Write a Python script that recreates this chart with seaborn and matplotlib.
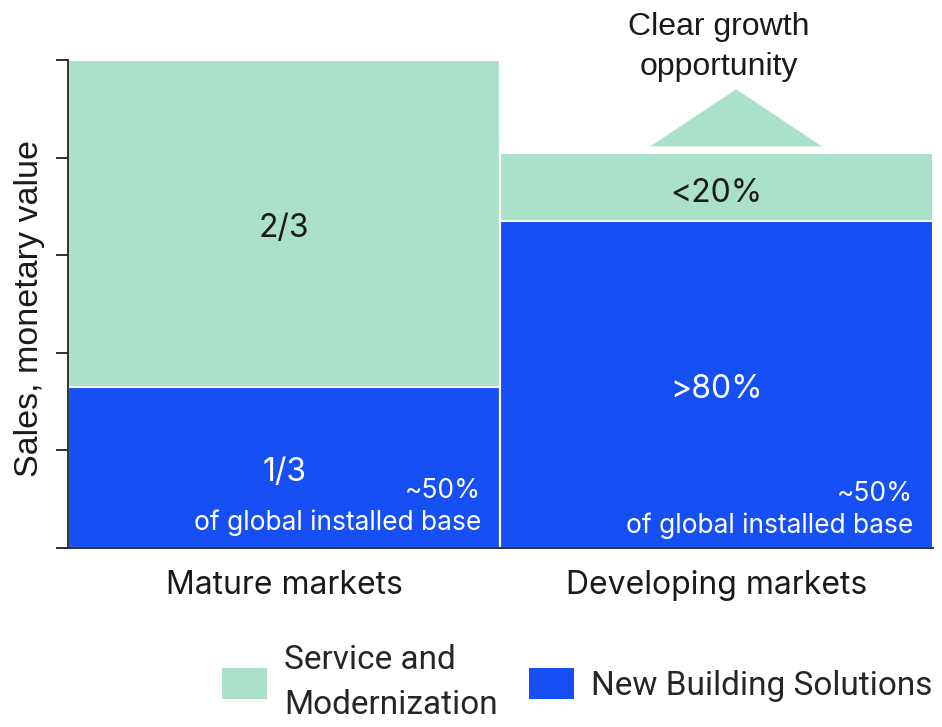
import matplotlib
matplotlib.use("Agg")
import matplotlib.pyplot as plt
import seaborn as sns
import pandas as pd
from matplotlib.patches import Patch

markets = ["Mature markets", "Developing markets"]
new_building = [33, 67]
service_mod = [67, 14]
top_labels = ["2/3", "<20%"]
bottom_labels = ["1/3", ">80%"]
note_share = ["~50%", "~50%"]
note_text = ["of global installed base", "of global installed base"]
series_names = ["Service and\nModernization", "New Building Solutions"]

GREEN = "#ABE1CA"
BLUE = "#1650F5"

sns.set_style("white")
plt.rcParams["font.family"] = ["Inter", "DejaVu Sans"]

totals = [a + b for a, b in zip(new_building, service_mod)]
df = pd.DataFrame({"market": markets, "total": totals, "new": new_building})

fig = plt.figure(figsize=(9.42, 7.27), dpi=100)
ax = fig.add_axes([0.0722, 0.2462, 0.9182, 0.6713])

sns.barplot(data=df, x="market", y="total", color=GREEN, width=1.0,
            edgecolor="white", linewidth=1.5, saturation=1, ax=ax)
sns.barplot(data=df, x="market", y="new", color=BLUE, width=1.0,
            edgecolor="white", linewidth=1.5, saturation=1, ax=ax)

ax.set_xlim(-0.5, 1.5)
ax.set_ylim(0, 100)
ax.set_yticks([0, 20, 40, 60, 80, 100])
ax.set_yticklabels([])
ax.tick_params(axis="y", which="major", length=9, width=1.3, color="#222222", left=True, direction="out")
ax.tick_params(axis="x", length=0, labelsize=23, pad=16, labelcolor="#1a1a1a")
for s in ["top", "right"]:
    ax.spines[s].set_visible(False)
for s in ["left", "bottom"]:
    ax.spines[s].set_color("#222222")
    ax.spines[s].set_linewidth(1.3)
ax.set_xlabel("")
ax.set_ylabel("Sales, monetary value", fontsize=24.5, family=["Liberation Sans"], color="#1a1a1a")
ax.yaxis.set_label_coords(-0.027, 0.49)

for i in range(len(markets)):
    nb = new_building[i]
    tot = totals[i]
    ax.text(i, nb + (tot - nb) / 2 - 1.0 - 0.4 * i, top_labels[i], ha="center", va="center",
            fontsize=23, color="#1a1a1a")
    ax.text(i, nb / 2 - 1.0 if i == 1 else 15.4, bottom_labels[i], ha="center", va="center",
            fontsize=23, color="white")
    ax.text(i + 0.455, 11.6 - 0.6 * i, note_share[i], ha="right", va="center",
            fontsize=19, color="white")
    ax.text(i + 0.455, 5.2 - 0.6 * i, note_text[i], ha="right", va="center",
            fontsize=19, color="white")

# growth triangle above the developing bar
t = totals[1]
ax.fill([0.846, 1.045, 1.243], [t + 1.3, t + 13, t + 1.3], color=GREEN, clip_on=False, lw=0)
ax.text(1.005, t + 21.6, "Clear growth\nopportunity", ha="center", va="center",
        fontsize=23, family=["Liberation Sans"], color="#1a1a1a", linespacing=1.42, clip_on=False)

handles = [Patch(facecolor=GREEN, edgecolor="none"), Patch(facecolor=BLUE, edgecolor="none")]
leg = fig.legend(handles, series_names, loc="lower center", bbox_to_anchor=(0.613, -0.033),
                 ncol=2, frameon=False, prop={"family": ["Roboto"], "size": 24},
                 handlelength=1.35, handleheight=1.05, handletextpad=0.5, columnspacing=0.95,
                 labelspacing=0.3)
for txt in leg.get_texts():
    txt.set_linespacing(1.5)

fig.savefig("out.png", dpi=100)
